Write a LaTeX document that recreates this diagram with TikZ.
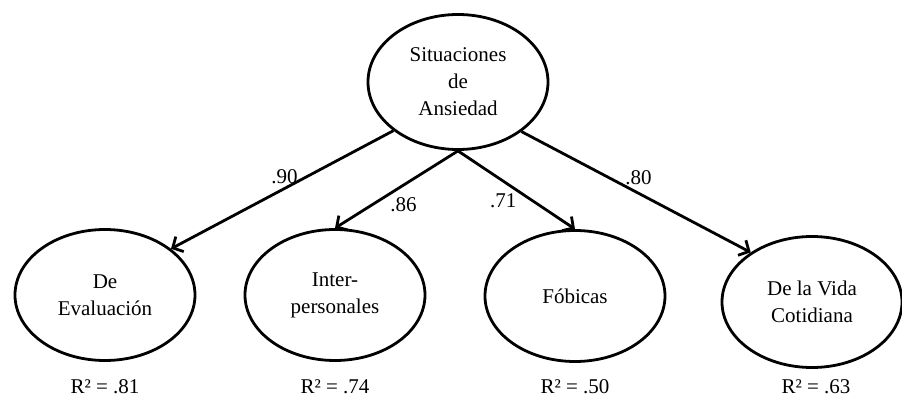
\documentclass[tikz,border=0pt]{standalone}
\usepackage{fontspec}
\setmainfont{Liberation Serif}
\usetikzlibrary{arrows.meta,shapes.geometric}
\tikzstyle{factor}=[draw, ellipse, line width=2.8pt, text centered, align=center,
  inner sep=0pt, minimum width=180pt, minimum height=131pt]
\tikzstyle{loading}=[line width=2.8pt, -{Straight Barb[length=8pt,width=17pt]}]

\begin{document}
\begin{tikzpicture}[font=\fontsize{21pt}{27pt}\selectfont]
  \useasboundingbox (-458pt,-317pt) rectangle (444pt,82pt);

  \node(sit)[factor,minimum height=135pt]{
    Situaciones\\
    de\\
    Ansiedad
  };

  \path(sit)+(-353pt,-213pt) node(eval)[factor]{De\\Evaluación};
  \draw[loading] (sit.217) -- (eval.35)
  node[pos=0.49, above]{.90};

  \path(sit)+(-123pt,-213pt) node(inter)[factor]{Inter-\\personales};
  \draw[loading] (sit.south) -- (inter.north)
  node[pos=0.57, below right, inner sep=1pt]{.86};

  \path(sit)+(117pt,-214pt) node(fob)[factor]{Fóbicas};
  \draw[loading] (sit.south) -- (fob.north)
  node[pos=0.52, below left, inner sep=1pt]{.71};

  \path(sit)+(354pt,-220pt) node(vida)[factor]{De la Vida\\Cotidiana};
  \draw[loading] (sit.322) -- (vida.141)
  node[pos=0.51, above, yshift=4pt]{.80};

  % R squared
  \path(eval.south)+(0,-25pt) node(r2eval){R² = .81};
  \path(inter.south)+(0,-25pt) node(r2inter){R² = .74};
  \path(fob.south)+(0,-24pt) node(r2fob){R² = .50};
  \path(vida.south)+(4pt,-18pt) node(r2vida){R² = .63};
\end{tikzpicture}
\end{document}
